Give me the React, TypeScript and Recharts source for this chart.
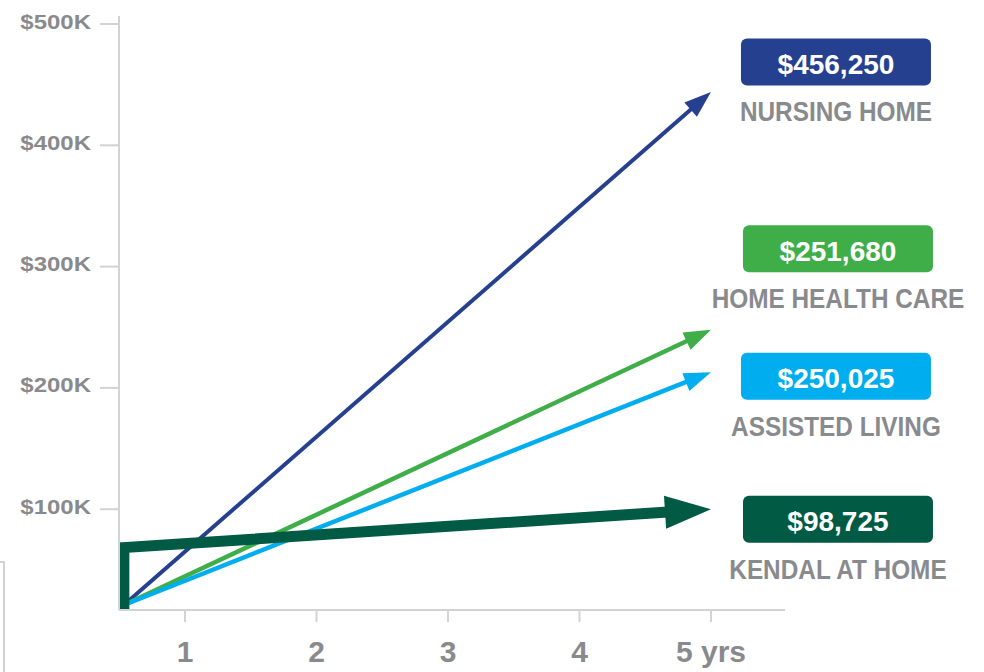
import React from 'react'
import { LineChart, Line, XAxis, YAxis } from 'recharts'

// x = years, y = cumulative cost ($)
const years = [1, 2, 3, 4, 5]
const yearLabels = ['1', '2', '3', '4', '5 yrs']
const moneyTicks = [100000, 200000, 300000, 400000, 500000]
const moneyLabels = ['$100K', '$200K', '$300K', '$400K', '$500K']

const careNames = ['NURSING HOME', 'HOME HEALTH CARE', 'ASSISTED LIVING', 'KENDAL AT HOME']
const careTotals = ['$456,250', '$251,680', '$250,025', '$98,725']

const nursingHome = [{ yr: 0.535, cost: 21000 }, { yr: 5, cost: 444000 }]
const homeHealth = [{ yr: 0.535, cost: 21000 }, { yr: 5, cost: 248000 }]
const assisted = [{ yr: 0.535, cost: 21000 }, { yr: 5, cost: 213000 }]
const kendal = [{ yr: 0.535, cost: 17700 }, { yr: 0.535, cost: 68400 }, { yr: 5, cost: 100000 }]

const GRAY = '#898a8d'
const AXIS = '#d2d3d5'
const FONT = '"Liberation Sans", Arial, sans-serif'

// per-series look
const colors = ['#25408f', '#3fae49', '#00aeef', '#005a44']
const widths = [4, 4.5, 4.5, 11]
const heads = [{ len: 27, half: 9.5 }, { len: 27, half: 9.5 }, { len: 27, half: 9.5 }, { len: 46, half: 16.5 }]
const dashes = ['989 1000', '989 1000', '989 1000', '975 1000']
const labelDx = [125, 127, 125, 127]
const labelDy = [-30, -81, 4, 10]

function makeEnd(i: number) {
  return (p: any) => {
    const { cx, cy, index, points } = p
    if (!points || index !== points.length - 1) return <g key={`e-${i}-${index}`} />
    const prev = points[index - 1]
    const dx = cx - prev.x
    const dy = cy - prev.y
    const d = Math.sqrt(dx * dx + dy * dy) || 1
    const ux = dx / d
    const uy = dy / d
    const { len, half } = heads[i]
    const bx = cx - ux * len
    const by = cy - uy * len
    const arrow = `${cx},${cy} ${bx - uy * half},${by + ux * half} ${bx + uy * half},${by - ux * half}`
    const lx = cx + labelDx[i]
    const ly = cy + labelDy[i]
    return (
      <g key={`e-${i}-${index}`}>
        <polygon points={arrow} fill={colors[i]} />
        <rect x={lx - 95} y={ly - 23.5} width={190} height={47} rx={6} fill={colors[i]} />
        <text x={lx} y={ly + 12} textAnchor="middle" fill="#fff" fontSize={28} fontWeight={700} fontFamily={FONT}>
          {careTotals[i]}
        </text>
        <text
          transform={`translate(${lx},${ly + 59.5}) scale(0.87,1)`}
          textAnchor="middle"
          fill={GRAY}
          fontSize={28}
          fontWeight={700}
          fontFamily={FONT}
        >
          {careNames[i]}
        </text>
      </g>
    )
  }
}

const YTick = (p: any) => {
  const i = moneyTicks.indexOf(p.payload.value)
  return (
    <text transform={`translate(${p.x},${p.y + 4.5}) scale(1.2,1)`} textAnchor="end" fill={GRAY} fontSize={20} fontWeight={700} fontFamily={FONT}>
      {moneyLabels[i]}
    </text>
  )
}

const XTick = (p: any) => {
  const i = years.indexOf(p.payload.value)
  return (
    <text x={p.x} y={p.y} dy="0.71em" textAnchor="middle" fill={GRAY} fontSize={30} fontWeight={700} fontFamily={FONT}>
      {yearLabels[i]}
    </text>
  )
}

const series = [nursingHome, homeHealth, assisted, kendal]

export default function App() {
  return (
    <div style={{ position: 'absolute', left: 0, top: 0, width: 984, height: 672, background: '#fff' }}>
      <div style={{ position: 'absolute', left: -2, top: 561, width: 5, height: 120, borderTop: `2px solid ${AXIS}`, borderRight: `2px solid ${AXIS}` }} />
      <LineChart width={984} height={672} margin={{ top: 16, right: 199, bottom: 22, left: 0 }}>
        <XAxis
          type="number"
          dataKey="yr"
          domain={[0.498, 5.563]}
          ticks={years}
          height={40}
          tickSize={12}
          tickMargin={19}
          stroke={AXIS}
          strokeWidth={2}
          tick={<XTick />}
        />
        <YAxis
          type="number"
          dataKey="cost"
          domain={[16900, 506600]}
          ticks={moneyTicks}
          width={119}
          tickSize={19}
          tickMargin={9}
          stroke={AXIS}
          strokeWidth={2}
          tick={<YTick />}
        />
        {series.map((s, i) => (
          <Line
            key={careNames[i]}
            data={s}
            dataKey="cost"
            type="linear"
            stroke={colors[i]}
            strokeWidth={widths[i]}
            strokeLinejoin="miter"
            strokeLinecap="butt"
            pathLength={1000}
            strokeDasharray={dashes[i]}
            dot={makeEnd(i)}
            activeDot={false}
            isAnimationActive={false}
          />
        ))}
      </LineChart>
    </div>
  )
}
